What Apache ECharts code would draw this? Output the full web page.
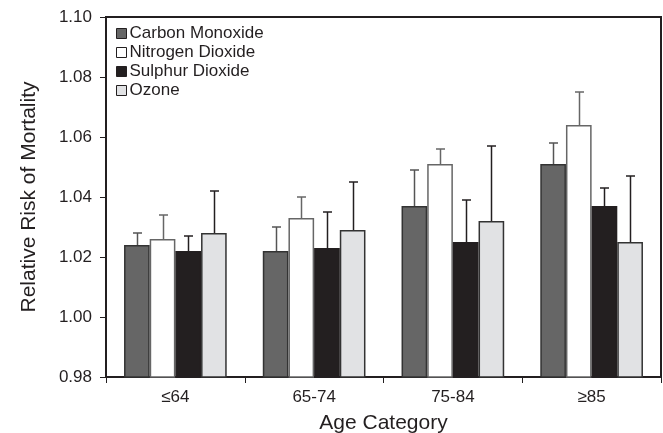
<!DOCTYPE html>
<html>
<head>
<meta charset="utf-8">
<script src="https://cdn.jsdelivr.net/npm/echarts@6/dist/echarts.min.js"></script>
<style>
html,body{margin:0;padding:0;background:#fff;}
#chart{width:663px;height:433px;}
</style>
</head>
<body>
<div id="chart"></div>
<script>
const categories = ['≤64', '65-74', '75-84', '≥85'];
const seriesNames = ['Carbon Monoxide', 'Nitrogen Dioxide', 'Sulphur Dioxide', 'Ozone'];
const coValues  = [1.024, 1.022, 1.037, 1.051];
const no2Values = [1.026, 1.033, 1.051, 1.064];
const so2Values = [1.022, 1.023, 1.025, 1.037];
const o3Values  = [1.028, 1.029, 1.032, 1.025];
const coUpper  = [1.028, 1.030, 1.049, 1.058];
const no2Upper = [1.034, 1.040, 1.056, 1.075];
const so2Upper = [1.027, 1.035, 1.039, 1.043];
const o3Upper  = [1.042, 1.045, 1.057, 1.047];
const yTicks = [0.98, 1.00, 1.02, 1.04, 1.06, 1.08, 1.10];

const values = [coValues, no2Values, so2Values, o3Values];
const uppers = [coUpper, no2Upper, so2Upper, o3Upper];
const fills = ['#666666', '#ffffff', '#231f20', '#e1e2e4'];
const borders = ['#333333', '#666666', '#231f20', '#333333'];
const errColors = ['#555555', '#666666', '#231f20', '#231f20'];
const FONT = 'Liberation Sans, Arial, sans-serif';
const CAT_GAP = 0.26;

const chart = echarts.init(document.getElementById('chart'), null, {renderer: 'canvas'});

const series = [];
values.forEach((vals, i) => {
  series.push({
    name: seriesNames[i],
    type: 'bar',
    data: vals,
    barGap: '0%',
    barCategoryGap: (CAT_GAP * 100) + '%',
    itemStyle: {color: fills[i], borderColor: borders[i], borderWidth: 1.5},
    z: 2
  });
});
values.forEach((vals, i) => {
  series.push({
    name: 'err' + i,
    type: 'custom',
    z: 3,
    encode: {x: 0, y: [1, 2]},
    data: vals.map((v, k) => [k, v, uppers[i][k]]),
    renderItem: function (params, api) {
      const x = api.value(0);
      const p = api.coord([x, api.value(1)]);
      const q = api.coord([x, api.value(2)]);
      const catW = api.size([1, 0])[0];
      const bw = catW * (1 - CAT_GAP) / 4;
      const cx = Math.round(p[0] + (i - 1.5) * bw) + 0.5;
      const st = {stroke: errColors[i], lineWidth: 1.5};
      return {
        type: 'group',
        children: [
          {type: 'line', shape: {x1: cx, y1: p[1], x2: cx, y2: q[1]}, style: st},
          {type: 'line', shape: {x1: cx - 4.5, y1: q[1], x2: cx + 4.5, y2: q[1]}, style: st}
        ]
      };
    }
  });
});

chart.setOption({
  animation: false,
  backgroundColor: '#ffffff',
  textStyle: {fontFamily: FONT},
  grid: {
    left: 106, right: 2, top: 17, bottom: 56,
    containLabel: false,
    outerBoundsMode: 'none',
    show: true, borderColor: '#231f20', borderWidth: 2, backgroundColor: 'transparent'
  },
  legend: {
    data: seriesNames,
    orient: 'vertical',
    left: 111, top: 20,
    itemWidth: 10, itemHeight: 10, itemGap: 2,
    icon: 'rect',
    itemStyle: {borderColor: '#231f20', borderWidth: 1},
    textStyle: {fontFamily: FONT, fontSize: 17, color: '#231f20', padding: [0, 0, 0, -2]}
  },
  xAxis: {
    type: 'category',
    data: categories,
    name: 'Age Category',
    nameLocation: 'middle',
    nameGap: 36,
    nameTextStyle: {fontFamily: FONT, fontSize: 21, color: '#231f20'},
    axisLine: {lineStyle: {color: '#231f20', width: 2}},
    axisTick: {show: true, alignWithLabel: false, length: 6, lineStyle: {color: '#231f20', width: 1}},
    axisLabel: {fontFamily: FONT, fontSize: 17, color: '#231f20', margin: 12}
  },
  yAxis: {
    type: 'value',
    min: yTicks[0], max: yTicks[yTicks.length - 1], interval: 0.02,
    name: 'Relative Risk of Mortality',
    nameLocation: 'middle',
    nameGap: 66,
    nameTextStyle: {fontFamily: FONT, fontSize: 21, color: '#231f20'},
    splitLine: {show: false},
    axisLine: {show: true, lineStyle: {color: '#231f20', width: 2}},
    axisTick: {show: true, length: 6, lineStyle: {color: '#231f20', width: 1}},
    axisLabel: {fontFamily: FONT, fontSize: 17, color: '#231f20', margin: 14,
      formatter: v => v.toFixed(2)}
  },
  series: series
});
</script>
</body>
</html>
